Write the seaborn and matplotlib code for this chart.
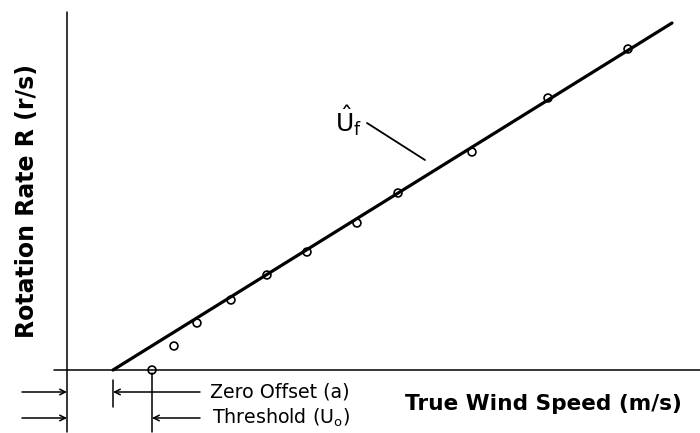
import numpy as np
import pandas as pd
import matplotlib
matplotlib.use("Agg")
import matplotlib.pyplot as plt
import seaborn as sns

# schematic units: origin where the two axes cross
wind_speed = [85, 107, 130, 164, 200, 240, 290, 331, 405, 481, 561]
rotation_rate = [0, 24, 47, 70, 95, 118, 147, 177, 218, 272, 321]
fit_speed = [46, 605]
fit_rate = [0, 347]
zero_offset = 46
threshold = 85

sns.set_style("white")
plt.rcParams['font.family'] = ['DejaVu Sans']
plt.rcParams['mathtext.fontset'] = 'dejavusans'
plt.rcParams['text.color'] = 'black'

fig = plt.figure(figsize=(7, 4.33), dpi=100)
ax = fig.add_axes([0, 0, 1, 1])
ax.set_xlim(-67, 633)
ax.set_ylim(-63, 370)

# axes lines
ax.plot([0, 0], [358, -62], color='black', lw=1.1)
ax.plot([-13, 633], [0, 0], color='black', lw=1.1)

pts = pd.DataFrame({'speed': wind_speed, 'rate': rotation_rate})
fit = pd.DataFrame({'speed': fit_speed, 'rate': fit_rate})
sns.lineplot(data=fit, x='speed', y='rate', color='black', lw=2.3, ax=ax)
sns.scatterplot(data=pts, x='speed', y='rate', marker='o', s=32,
                facecolor='none', edgecolor='black', linewidth=1.2, ax=ax,
                zorder=3)
ax.axis('off')

# fitted line label
ax.text(268, 249, r'$\hat{\mathrm{U}}_\mathrm{f}$', fontsize=18, va='center', ha='left')
ax.plot([300, 358], [247, 210], color='black', lw=1.3)

# dimension lines below the axis
y1, y2 = -22, -48
ax.plot([zero_offset, zero_offset], [-10, -37], color='black', lw=1.1)
ax.plot([threshold, threshold], [-3, -62], color='black', lw=1.1)
arrow = dict(arrowstyle='->', color='black', lw=1.1, shrinkA=0, shrinkB=0)
ax.annotate('', xy=(0, y1), xytext=(-45, y1), arrowprops=arrow)
ax.annotate('', xy=(0, y2), xytext=(-45, y2), arrowprops=arrow)
ax.annotate('', xy=(zero_offset, y1), xytext=(133, y1), arrowprops=arrow)
ax.annotate('', xy=(threshold, y2), xytext=(133, y2), arrowprops=arrow)
ax.text(143, y1, 'Zero Offset (a)', fontsize=13.7, va='center', ha='left')
ax.text(145, y2, r'Threshold (U$_\mathrm{o}$)', fontsize=13.7, va='center', ha='left')

ax.text(338, -34, 'True Wind Speed (m/s)', fontsize=15.6, fontweight='bold',
        va='center', ha='left')
ax.text(-40, 169, 'Rotation Rate R (r/s)', fontsize=17, fontweight='bold',
        va='center', ha='center', rotation=90)

fig.savefig('out.png', dpi=100)
